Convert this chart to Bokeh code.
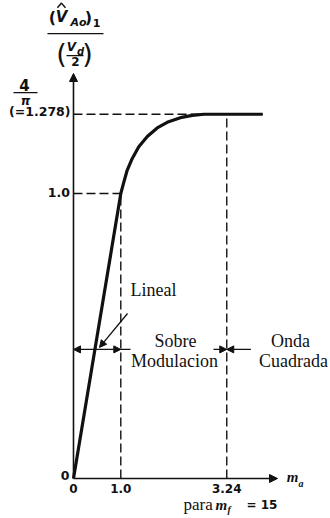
from bokeh.plotting import figure
from bokeh.models import Arrow, NormalHead, Label
from bokeh.core.properties import value
from bokeh.embed import file_html
from bokeh.resources import INLINE

# Fundamental output amplitude (V_Ao)1 / (Vd/2) versus modulation index m_a, for m_f = 15
ma = [0.0, 1.0, 1.06, 1.13, 1.24, 1.38, 1.56, 1.77, 2.01, 2.26, 2.51, 2.76, 3.24, 4.0]
va = [0.0, 1.0, 1.037, 1.079, 1.122, 1.164, 1.200, 1.230, 1.252, 1.266, 1.274, 1.278, 1.278, 1.278]

x_ticks = [0.0, 1.0, 3.24]
x_tick_labels = ["0", "1.0", "3.24"]
y_ticks = [0.0, 1.0, 1.278]
y_tick_labels = ["0", "1.0", "(=1.278)"]

regions = ["Lineal", "Sobre", "Modulacion", "Onda", "Cuadrada"]

SERIF = "Liberation Serif"
SANS = "DejaVu Sans"
INK = "#111111"

p = figure(width=330, height=518, x_range=(-1.543, 5.433), y_range=(-0.1404, 1.6772),
           x_axis_location=None, y_axis_location=None, toolbar_location=None,
           output_backend="svg", min_border=0, outline_line_color=None,
           background_fill_color="white", border_fill_color="white")
p.xgrid.visible = False
p.ygrid.visible = False


def note(x, y, text, size, font=SERIF, style="normal", align="center", baseline="middle"):
    p.add_layout(Label(x=x, y=y, text=text, text_font=font, text_font_size=f"{size}px",
                       text_font_style=style, text_align=align, text_baseline=baseline,
                       text_color=INK))


def arrow(x0, y0, x1, y1, both=False, size=7, width=1.4):
    head = dict(size=size, fill_color=INK, line_color=INK, line_width=1)
    p.add_layout(Arrow(x_start=x0, y_start=y0, x_end=x1, y_end=y1,
                       end=NormalHead(**head), start=NormalHead(**head) if both else None,
                       line_color=INK, line_width=width))


# dashed guides at the tick values
x_top = max(ma)
p.segment(x0=[0.0, 0.0], y0=y_ticks[1:], x1=[x_ticks[1], x_top], y1=y_ticks[1:],
          line_color=INK, line_width=1.4, line_dash="9 4")
p.segment(x0=x_ticks[1:], y0=[0.0, 0.0], x1=x_ticks[1:], y1=[va[ma.index(1.0)], va[ma.index(3.24)]],
          line_color=INK, line_width=1.4, line_dash="9 4")

# the characteristic
p.line(ma, va, line_color=INK, line_width=3.2, line_join="round")

# axes with arrowheads
arrow(0, 0, 0, 1.421, size=8, width=1.6)
arrow(0, 0, 4.313, 0, size=8, width=1.6)

# tick labels
p.text(x=x_ticks, y=[-0.035] * 3, text=x_tick_labels, text_font=value(SANS),
       text_font_size="12px", text_font_style="bold", text_align="center",
       text_baseline="middle", text_color=INK)
p.text(x=[-0.085, -0.075, -0.063], y=[0.01, 1.004, 1.288], text=y_tick_labels,
       text_font=value(SANS), text_font_size="12.5px", text_font_style="bold",
       text_align="right", text_baseline="middle", text_color=INK)

# 4 / pi
note(-1.036, 1.382, "4", 15, SANS, "bold")
p.segment(x0=[-1.268], y0=[1.354], x1=[-0.761], y1=[1.354], line_color=INK, line_width=1.3)
note(-1.015, 1.326, "π", 12, SANS, "bold italic")

# vertical axis title: (V̂_Ao)1 / (Vd / 2)
note(-0.444, 1.618, "(", 16, SANS, "bold")
note(-0.254, 1.618, "V", 15, SANS, "bold italic")
p.line([-0.34, -0.254, -0.17], [1.652, 1.668, 1.652], line_color=INK, line_width=1.5)
note(0.106, 1.600, "Ao", 11, SANS, "bold italic")
note(0.317, 1.618, ")", 16, SANS, "bold")
note(0.486, 1.600, "1", 11, SANS, "bold")
p.segment(x0=[-0.55], y0=[1.561], x1=[0.634], y1=[1.561], line_color=INK, line_width=1.3)
note(-0.254, 1.491, "(", 27, SANS, "normal")
note(-0.042, 1.514, "V", 12, SANS, "bold italic")
note(0.148, 1.500, "d", 10, SANS, "bold italic")
p.segment(x0=[-0.148], y0=[1.484], x1=[0.211], y1=[1.484], line_color=INK, line_width=1.2)
note(0.042, 1.462, "2", 12, SANS, "bold")
note(0.296, 1.491, ")", 27, SANS, "normal")

# horizontal axis title
note(4.63, 0.0035, "m", 15, SERIF, "bold italic")
note(4.81, -0.0175, "a", 10, SERIF, "bold italic")
note(2.326, -0.092, "para", 17, SERIF, "normal", "left", "middle")
note(3.002, -0.092, "m", 15, SERIF, "bold italic", "left", "middle")
note(3.256, -0.108, "f", 10, SERIF, "bold italic", "left", "middle")
note(3.658, -0.094, "= 15", 12, SANS, "bold", "left", "middle")

# operating regions
note(1.205, 0.66, regions[0], 18, SERIF, "normal", "left")
note(2.156, 0.484, regions[1], 18)
note(2.135, 0.414, regions[2], 18)
note(4.588, 0.484, regions[3], 18)
note(4.65, 0.414, regions[4], 18)

# pointer to the linear segment
arrow(1.142, 0.579, 0.55, 0.46, size=7, width=1.3)

# span markers
arrow(0.0, 0.453, 1.0, 0.453, both=True, size=7, width=1.3)
p.segment(x0=[1.0], y0=[0.453], x1=[1.205], y1=[0.453], line_color=INK, line_width=1.3)
arrow(2.96, 0.453, 3.24, 0.453, size=7, width=1.3)
arrow(3.75, 0.453, 3.24, 0.453, size=7, width=1.3)

open("out.html", "w").write(file_html(p, INLINE))
